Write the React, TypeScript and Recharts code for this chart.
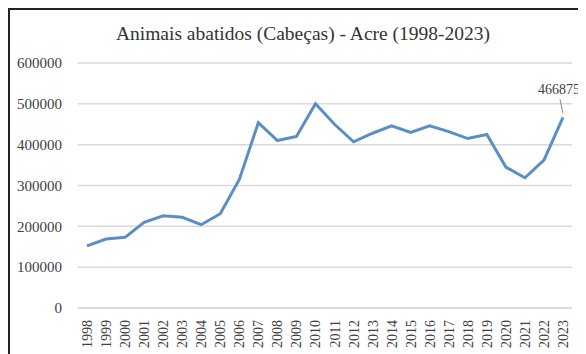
import { LineChart, Line, XAxis, YAxis, CartesianGrid, LabelList } from 'recharts'

// Animais abatidos (cabeças) no Acre, 1998-2023
const years = [
  '1998', '1999', '2000', '2001', '2002', '2003', '2004', '2005', '2006',
  '2007', '2008', '2009', '2010', '2011', '2012', '2013', '2014', '2015',
  '2016', '2017', '2018', '2019', '2020', '2021', '2022', '2023',
]
const abatidos = [
  152000, 169000, 173000, 210000, 226000, 222000, 204000, 231000, 315000,
  454000, 410000, 420000, 500000, 450000, 407000, 428000, 446000, 430000,
  446000, 432000, 415000, 425000, 345000, 319000, 362000, 466875,
]
const yTicks = [0, 100000, 200000, 300000, 400000, 500000, 600000]

const data = years.map((ano, i) => ({ ano, abatidos: abatidos[i] }))

const fonte = '"Liberation Serif", "Times New Roman", serif'

// só o último ponto recebe rótulo, com linha de chamada
const UltimoRotulo = (props: any) => {
  const { x, y, value, index } = props
  if (index !== abatidos.length - 1) return null
  return (
    <g>
      <line x1={x - 3} y1={y - 18} x2={x} y2={y - 4} stroke="#8c8c8c" strokeWidth={1} />
      <text
        x={x - 4}
        y={y - 23}
        textAnchor="middle"
        fontFamily={fonte}
        fontSize={14}
        fill="#404040"
      >
        {value}
      </text>
    </g>
  )
}

const AnoTick = (props: any) => {
  const { x, y, payload } = props
  return (
    <text
      x={x + 5}
      y={y + 4}
      transform={`rotate(-90 ${x + 5} ${y + 4})`}
      textAnchor="end"
      fontFamily={fonte}
      fontSize={14}
      fill="#404040"
    >
      {payload.value}
    </text>
  )
}

export default function App() {
  return (
    <div
      style={{
        width: 576,
        height: 346,
        borderTop: '2px solid #222',
        borderLeft: '2px solid #222',
        background: '#fff',
        position: 'relative',
        fontFamily: fonte,
      }}
    >
      <div
        style={{
          position: 'absolute',
          top: 13,
          left: 0,
          width: 586,
          textAlign: 'center',
          fontSize: 19.5,
          color: '#333',
        }}
      >
        Animais abatidos (Cabeças) - Acre (1998-2023)
      </div>
      <LineChart
        width={576}
        height={344}
        data={data}
        margin={{ top: 53, right: 14, left: 0, bottom: 0 }}
      >
        <CartesianGrid vertical={false} stroke="#d9d9d9" strokeWidth={1.5} />
        <XAxis
          dataKey="ano"
          interval={0}
          height={46}
          padding={{ left: 9, right: 9 }}
          tickLine={false}
          axisLine={{ stroke: '#d9d9d9', strokeWidth: 1.5 }}
          tick={<AnoTick />}
        />
        <YAxis
          width={68}
          domain={[0, 600000]}
          ticks={yTicks}
          tickLine={false}
          axisLine={false}
          tickMargin={10}
          tick={{ fontFamily: fonte, fontSize: 15, fill: '#404040' }}
        />
        <Line
          type="linear"
          dataKey="abatidos"
          stroke="#5b8ec4"
          strokeWidth={3}
          dot={false}
          isAnimationActive={false}
        >
          <LabelList dataKey="abatidos" content={<UltimoRotulo />} />
        </Line>
      </LineChart>
    </div>
  )
}
